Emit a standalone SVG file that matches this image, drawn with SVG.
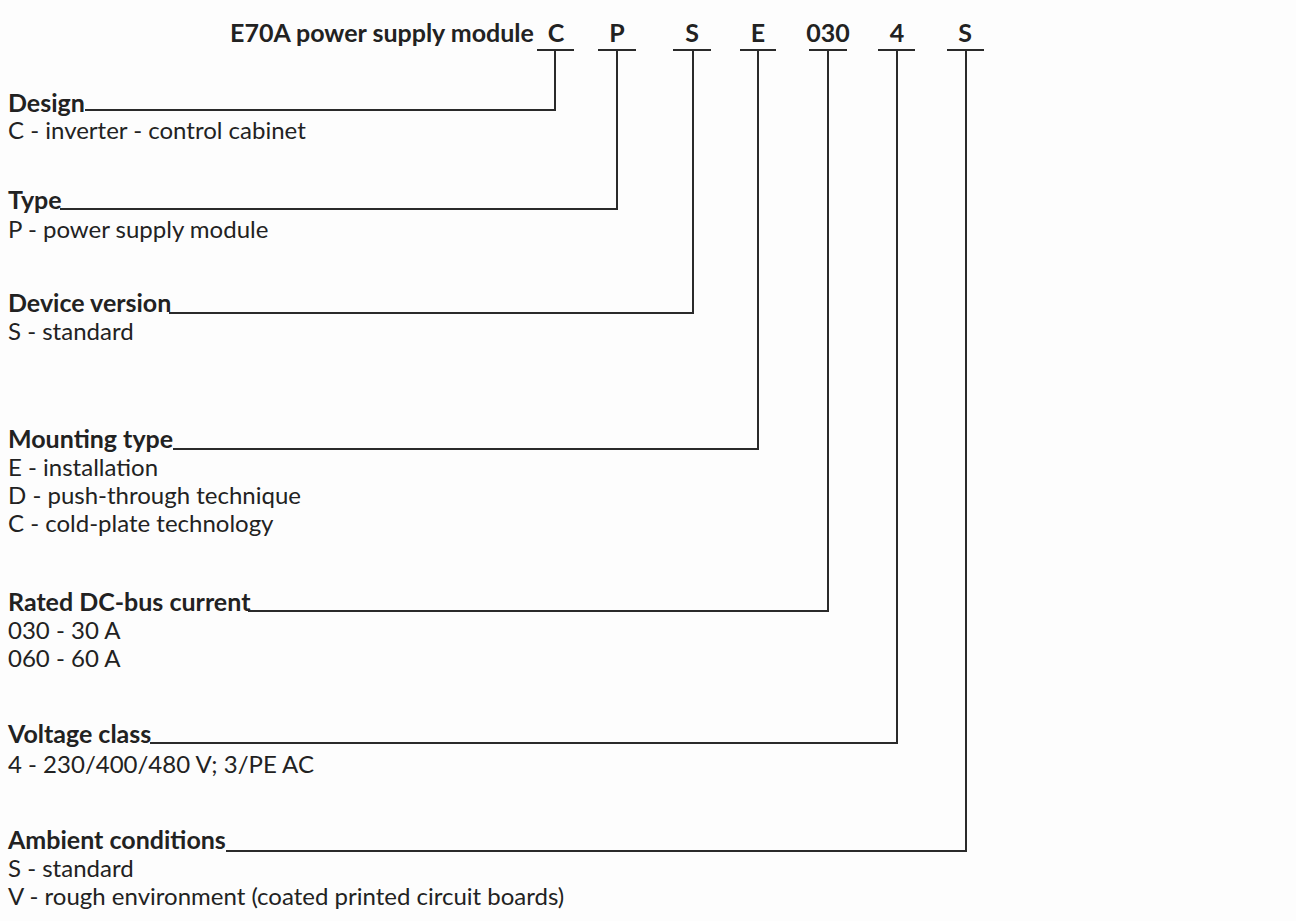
<svg xmlns="http://www.w3.org/2000/svg" width="1296" height="921" viewBox="0 0 1296 921">
<style>
.t{font-family:Lato,"Open Sans",sans-serif;font-size:24px;fill:#222}
.b{font-family:Lato,"Open Sans",sans-serif;font-size:25px;font-weight:bold;fill:#222}
.c{font-family:Lato,"Open Sans",sans-serif;font-size:25px;font-weight:bold;fill:#222;text-anchor:middle}
.l{fill:none;stroke:#2a2a2a;stroke-width:2}
</style>
<rect width="1296" height="921" fill="#fdfdfd"/>
<g id="header">
<text class="b" x="230" y="42">E70A power supply module</text>
<text class="c" x="556" y="42">C</text>
<text class="c" x="617" y="42">P</text>
<text class="c" x="692" y="42">S</text>
<text class="c" x="758" y="42">E</text>
<text class="c" x="828" y="42">030</text>
<text class="c" x="897" y="42">4</text>
<text class="c" x="965" y="42">S</text>
</g>
<g id="connectors">
<path class="l" d="M537 50H574M555 50V110H85"/>
<path class="l" d="M598 50H636M617 50V209H60"/>
<path class="l" d="M673 50H711M693 50V313H169"/>
<path class="l" d="M740 50H776M758 50V449H173"/>
<path class="l" d="M809 50H847M828 50V611H248"/>
<path class="l" d="M878 50H915M897 50V743H150"/>
<path class="l" d="M947 50H984M966 50V851H226"/>
</g>
<g id="design">
<text class="b" x="8" y="112">Design</text>
<text class="t" x="8" y="139">C - inverter - control cabinet</text>
</g>
<g id="type">
<text class="b" x="8" y="209">Type</text>
<text class="t" x="8" y="238">P - power supply module</text>
</g>
<g id="device-version">
<text class="b" x="8" y="312">Device version</text>
<text class="t" x="8" y="340">S - standard</text>
</g>
<g id="mounting-type">
<text class="b" x="8" y="448">Mounting type</text>
<text class="t" x="8" y="476">E - installation</text>
<text class="t" x="8" y="504">D - push-through technique</text>
<text class="t" x="8" y="532">C - cold-plate technology</text>
</g>
<g id="rated-current">
<text class="b" x="8" y="611">Rated DC-bus current</text>
<text class="t" x="8" y="639">030 - 30 A</text>
<text class="t" x="8" y="667">060 - 60 A</text>
</g>
<g id="voltage-class">
<text class="b" x="8" y="743">Voltage class</text>
<text class="t" x="8" y="773">4 - 230/400/480 V; 3/PE AC</text>
</g>
<g id="ambient">
<text class="b" x="8" y="849">Ambient conditions</text>
<text class="t" x="8" y="877">S - standard</text>
<text class="t" x="8" y="905">V - rough environment (coated printed circuit boards)</text>
</g>
</svg>
